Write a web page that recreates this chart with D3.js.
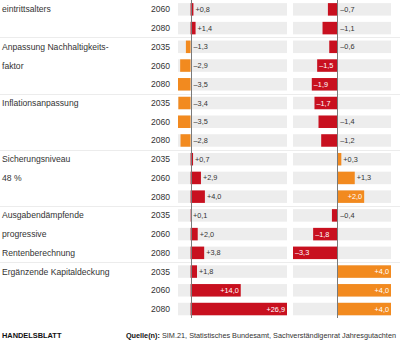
<!DOCTYPE html>
<html>
<head>
<meta charset="utf-8">
<script src="https://cdn.jsdelivr.net/npm/d3@7"></script>
<style>
  html, body { margin: 0; padding: 0; background: #fff; }
  svg { display: block; font-family: "Liberation Sans", Arial, sans-serif; }
</style>
</head>
<body>
<div id="chart"></div>
<script>
// Rentenreform-Szenarien: Effekt auf Beitragssatz (links) und Rentenniveau (rechts)
const groupLabels = [
  ['eintrittsalters'],
  ['Anpassung Nachhaltigkeits-', 'faktor'],
  ['Inflationsanpassung'],
  ['Sicherungsniveau', '48 %'],
  ['Ausgabendämpfende', 'progressive', 'Rentenberechnung'],
  ['Ergänzende Kapitaldeckung']
];
const groupOf = [0, 0, 1, 1, 1, 2, 2, 2, 3, 3, 3, 4, 4, 4, 5, 5, 5];
const years = ['2060', '2080', '2035', '2060', '2080', '2035', '2060', '2080',
  '2035', '2060', '2080', '2035', '2060', '2080', '2035', '2060', '2080'];
const leftValues = [0.8, 1.4, -1.3, -2.9, -3.5, -3.4, -3.5, -2.8,
  0.7, 2.9, 4.0, 0.1, 2.0, 3.8, 1.8, 14.0, 26.9];
const rightValues = [-0.7, -1.1, -0.6, -1.5, -1.9, -1.7, -1.4, -1.2,
  0.3, 1.3, 2.0, -0.4, -1.8, -3.3, 4.0, 4.0, 4.0];

const RED = '#c8101f';
const ORANGE = '#f28a1f';
const GREY = '#ededed';

const width = 400, height = 350;
const svg = d3.select('#chart').append('svg')
  .attr('width', width)
  .attr('height', height);

const rows = d3.range(years.length);
const y = d3.scaleBand()
  .domain(rows)
  .range([0, 318.4])
  .paddingInner(0.333)
  .paddingOuter(0.1667);

const xLeft = d3.scaleLinear().domain([-3.5, 26.9]).range([178, 287]);
const xRight = d3.scaleLinear().domain([-3.3, 4.0]).range([293, 391]);

const fmt = v => (v >= 0 ? '+' : '–') + d3.format('.1f')(Math.abs(v)).replace('.', ',');

// separators between groups
const seps = rows.filter(i => i > 0 && groupOf[i] !== groupOf[i - 1]);
svg.append('g').selectAll('line')
  .data(seps)
  .join('line')
  .attr('x1', 0).attr('x2', width)
  .attr('y1', i => Math.round(y(i) - y.step() * 0.333 / 2) + 0.5)
  .attr('y2', i => Math.round(y(i) - y.step() * 0.333 / 2) + 0.5)
  .attr('stroke', '#ececec');

// group labels: one line per row
const labelRows = [];
groupLabels.forEach((lines, g) => {
  const first = groupOf.indexOf(g);
  lines.forEach((t, k) => labelRows.push({ text: t, row: first + k }));
});
svg.append('g').selectAll('text')
  .data(labelRows)
  .join('text')
  .attr('x', 2)
  .attr('y', d => y(d.row) + y.bandwidth() / 2)
  .attr('dy', '0.35em')
  .attr('font-size', 8.6)
  .attr('fill', '#333')
  .text(d => d.text);

// years
svg.append('g').selectAll('text')
  .data(rows)
  .join('text')
  .attr('x', 170)
  .attr('y', i => y(i) + y.bandwidth() / 2)
  .attr('dy', '0.35em')
  .attr('text-anchor', 'end')
  .attr('font-size', 8.6)
  .attr('fill', '#333')
  .text(i => years[i]);

function panel(x, values, posColor, negColor) {
  const g = svg.append('g');
  g.selectAll('rect.bg')
    .data(rows)
    .join('rect')
    .attr('class', 'bg')
    .attr('x', x.range()[0])
    .attr('width', x.range()[1] - x.range()[0])
    .attr('y', i => y(i))
    .attr('height', y.bandwidth())
    .attr('fill', GREY);

  g.selectAll('rect.bar')
    .data(rows)
    .join('rect')
    .attr('class', 'bar')
    .attr('x', i => x(Math.min(0, values[i])))
    .attr('width', i => Math.abs(x(values[i]) - x(0)))
    .attr('y', i => y(i))
    .attr('height', y.bandwidth())
    .attr('fill', i => values[i] >= 0 ? posColor : negColor);

  g.append('line')
    .attr('x1', Math.round(x(0)) + 0.5).attr('x2', Math.round(x(0)) + 0.5)
    .attr('y1', 0).attr('y2', 318)
    .attr('stroke', '#7a7a7a');

  g.selectAll('text')
    .data(rows)
    .join('text')
    .each(function (i) {
      const v = values[i];
      const w = Math.abs(x(v) - x(0));
      const inside = w >= 20;
      const t = d3.select(this);
      if (inside) {
        t.attr('fill', '#fff')
          .attr('x', v >= 0 ? x(v) - 2 : x(v) + 2)
          .attr('text-anchor', v >= 0 ? 'end' : 'start');
      } else {
        t.attr('fill', '#333')
          .attr('x', v >= 0 ? x(v) + 2 : x(0) + 3)
          .attr('text-anchor', 'start');
      }
    })
    .attr('y', i => y(i) + y.bandwidth() / 2)
    .attr('dy', '0.35em')
    .attr('font-size', 7.3)
    .text(i => fmt(values[i]));
}

panel(xLeft, leftValues, RED, ORANGE);
panel(xRight, rightValues, ORANGE, RED);

// footer
svg.append('text')
  .attr('x', 2).attr('y', 337.5)
  .attr('font-size', 7.4)
  .attr('font-weight', 'bold')
  .attr('fill', '#111')
  .text('HANDELSBLATT');

const src = svg.append('text')
  .attr('x', 396).attr('y', 337.5)
  .attr('text-anchor', 'end')
  .attr('font-size', 7.3)
  .attr('fill', '#333');
src.append('tspan').attr('font-weight', 'bold').attr('fill', '#111').text('Quelle(n):');
src.append('tspan').text(' SIM.21, Statistisches Bundesamt, Sachverständigenrat Jahresgutachten');
</script>
</body>
</html>
